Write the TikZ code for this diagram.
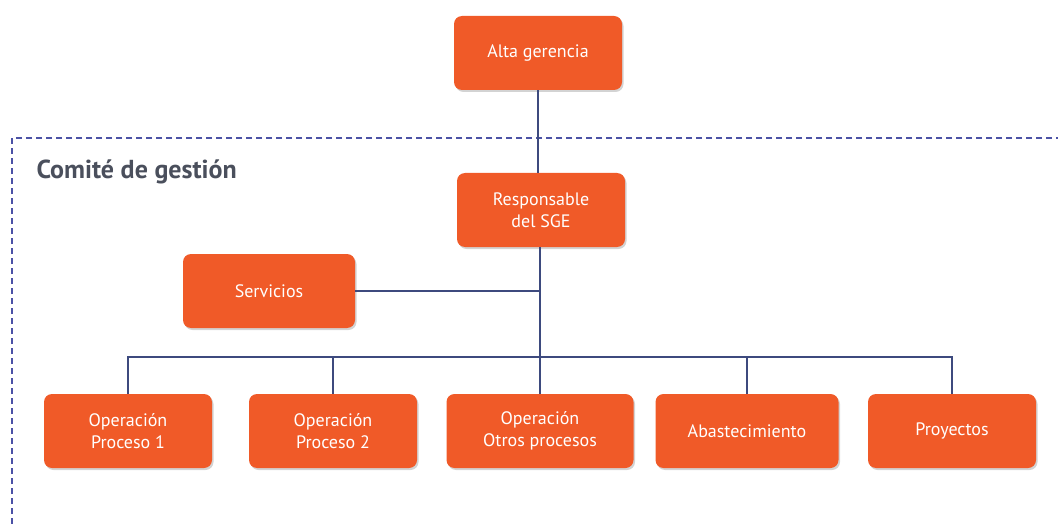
\documentclass[tikz,border=0pt]{standalone}
\usepackage{fontspec}
\setmainfont{PT Sans}
\usepackage{xcolor}
\usetikzlibrary{positioning,shadows}
\definecolor{naranja}{HTML}{F05A28}
\definecolor{linea}{HTML}{3D4A7E}
\definecolor{marco}{HTML}{4B52A6}
\definecolor{titulo}{HTML}{4A4F5C}

\begin{document}
\begin{tikzpicture}[x=1pt, y=-1pt,
  font=\fontsize{18}{22}\selectfont,
  caja/.style={fill=naranja, rounded corners=8pt, minimum width=168pt,
    minimum height=74pt, align=center, text=white, inner sep=2pt,
    drop shadow={shadow xshift=1.5pt, shadow yshift=-2pt, opacity=0.35}},
  con/.style={draw=linea, line width=1.3pt},
  marcoline/.style={draw=marco, dashed, dash pattern=on 6pt off 4pt, line width=1.1pt}]
  \useasboundingbox (0,0) rectangle (1058,524);
  % comite frame
  \coordinate (fsw) at (12,524);
  \coordinate (fne) at (1058,138);
  \draw[marcoline] (fsw) |- (fne);
  \node[anchor=west, text=titulo, font=\fontsize{26}{28}\selectfont\bfseries] (comite) at (33,172) {Comité de gestión};
  % nodes
  \node[caja] (alta) at (538,53) {Alta gerencia};
  \node[caja] (resp) at (541,210) {Responsable\\del SGE};
  \node[caja, minimum width=172pt] (serv) at (269,291) {Servicios};
  \coordinate (bus) at (540,357);
  \node[caja] (op1) at (128,431) {Operación\\Proceso 1};
  \node[caja] (op2) at (333,431) {Operación\\Proceso 2};
  \node[caja, minimum width=187pt] (opx) at (540,431) {Operación\\Otros procesos};
  \node[caja, minimum width=183pt] (abas) at (747,431) {Abastecimiento};
  \node[caja] (proy) at (952,431) {Proyectos};
  % connectors
  \draw[con] (alta.south) -- (alta.south |- resp.north);
  \draw[con] (resp.south -| bus) -- (bus);
  \draw[con] (serv.east) -- (serv.east -| bus);
  \draw[con] (bus) -| (op1.north);
  \draw[con] (bus) -| (op2.north);
  \draw[con] (bus) -- (opx.north -| bus);
  \draw[con] (bus) -| (abas.north);
  \draw[con] (bus) -| (proy.north);
\end{tikzpicture}
\end{document}
